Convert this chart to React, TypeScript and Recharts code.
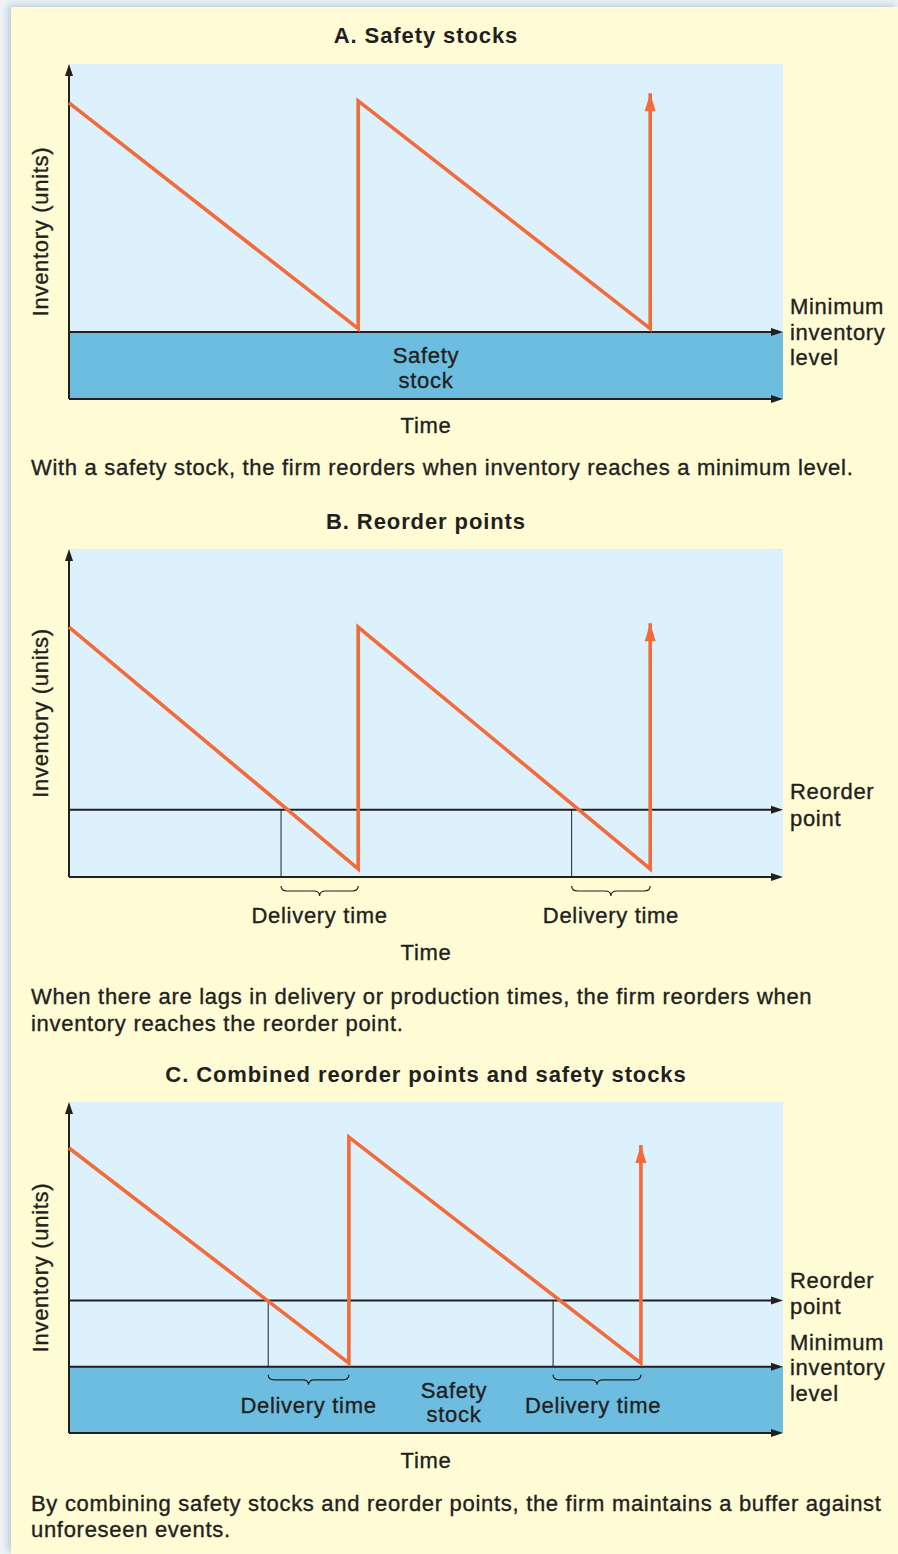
import React from 'react';
import { ComposedChart, Line, XAxis, YAxis, ReferenceArea, ReferenceLine, CartesianGrid } from 'recharts';

const FONT = '"Liberation Sans", Arial, Helvetica, sans-serif';
const INK = '#231f20';
const ORANGE = '#f26b3a';
const PLOT_BG = '#dcf1fc';
const BAND = '#6dbde0';
const CREAM = '#fffbd5';

// ---- shared scales (time 0..10, inventory 0..100) ----
const timeDomain: [number, number] = [0, 10];
const invDomain: [number, number] = [0, 100];

// ---- Panel A: safety stocks ----
const aTime = [0, 4.05, 4.05, 8.14, 8.14];
const aInventory = [88.4, 21, 89, 21, 91.3];
const aMinLevel = 20;

// ---- Panel B: reorder points ----
const bTime = [0, 4.05, 4.05, 8.14, 8.14];
const bInventory = [76.2, 2.5, 76.2, 2.5, 77.4];
const bReorderPoint = 20.5;
const bOrderTimes = [2.97, 7.04];
const bArrivalTimes = [4.05, 8.14];

// ---- Panel C: combined ----
const cTime = [0, 3.92, 3.92, 8.01, 8.01];
const cInventory = [86.1, 21.1, 89.4, 21.1, 87];
const cMinLevel = 20;
const cReorderPoint = 40;
const cOrderTimes = [2.79, 6.78];
const cArrivalTimes = [3.92, 8.01];

// ---- texts ----
const titles = ['A. Safety stocks', 'B. Reorder points', 'C. Combined reorder points and safety stocks'];
const captionA = ['With a safety stock, the firm reorders when inventory reaches a minimum level.'];
const captionB = [
  'When there are lags in delivery or production times, the firm reorders when',
  'inventory reaches the reorder point.',
];
const captionC = [
  'By combining safety stocks and reorder points, the firm maintains a buffer against',
  'unforeseen events.',
];
const yLabel = 'Inventory (units)';
const xLabel = 'Time';
const minLevelLabel = ['Minimum', 'inventory', 'level'];
const reorderLabel = ['Reorder', 'point'];
const safetyLabel = ['Safety', 'stock'];
const deliveryLabel = 'Delivery time';

const textStyle: React.CSSProperties = {
  fontFamily: FONT,
  fontSize: 22,
  letterSpacing: '0.7px',
  fill: INK,
  stroke: INK,
  strokeWidth: 0.35,
};

const arrowLine = (color: string, w: number, headLen: number, headHalf: number) => (props: any) => {
  const { x1, y1, x2, y2 } = props;
  if ([x1, y1, x2, y2].some((v) => typeof v !== 'number' || isNaN(v))) return <g />;
  const dx = x2 - x1;
  const dy = y2 - y1;
  const len = Math.hypot(dx, dy) || 1;
  const ux = dx / len;
  const uy = dy / len;
  const bx = x2 - ux * headLen;
  const by = y2 - uy * headLen;
  const px = -uy;
  const py = ux;
  return (
    <g>
      <line x1={x1} y1={y1} x2={bx + ux * 2} y2={by + uy * 2} stroke={color} strokeWidth={w} />
      <polygon
        points={`${x2},${y2} ${bx + px * headHalf},${by + py * headHalf} ${bx - px * headHalf},${by - py * headHalf}`}
        fill={color}
      />
    </g>
  );
};

const axisArrow = arrowLine(INK, 2, 12, 4);

const levelLine = (lines: string[], dy: number, lh: number) => (props: any) => {
  const { x2, y2 } = props;
  const y0 = y2 + dy - ((lines.length - 1) * lh) / 2;
  return (
    <g>
      {axisArrow(props)}
      {lines.map((s, i) => (
        <text key={i} x={x2 + 7} y={y0 + i * lh} dominantBaseline="central" style={textStyle}>
          {s}
        </text>
      ))}
    </g>
  );
};

const textBlock = (lines: string[], dx: number, dy: number, lh: number) => (props: any) => {
  const { x1, x2, y1 } = props;
  const cx = (x1 + x2) / 2 + dx;
  const y0 = y1 + dy - ((lines.length - 1) * lh) / 2;
  return (
    <g>
      {lines.map((s, i) => (
        <text key={i} x={cx} y={y0 + i * lh} textAnchor="middle" dominantBaseline="central" style={textStyle}>
          {s}
        </text>
      ))}
    </g>
  );
};

const braceShape = (label: string, gap: number, labelDx: number) => (props: any) => {
  const { x1, x2, y1 } = props;
  const top = y1 + gap;
  const h = 5;
  const r = 6;
  const mid = (x1 + x2) / 2;
  const d = `M${x1},${top} Q${x1},${top + h} ${x1 + r},${top + h} L${mid - r},${top + h} Q${mid},${top + h} ${mid},${top + 2 * h} Q${mid},${top + h} ${mid + r},${top + h} L${x2 - r},${top + h} Q${x2},${top + h} ${x2},${top}`;
  return (
    <g>
      <path d={d} fill="none" stroke={INK} strokeWidth={1.2} />
      <text x={mid + labelDx} y={y1 + 38.5} textAnchor="middle" dominantBaseline="central" style={textStyle}>
        {label}
      </text>
    </g>
  );
};

type PanelProps = {
  top: number;
  plotHeight: number;
  xAxisHeight: number;
  time: number[];
  inventory: number[];
  minLevel?: number;
  reorderPoint?: number;
  orderTimes?: number[];
  arrivalTimes?: number[];
  safetyDx?: number;
  reorderDy?: number;
  reorderLh?: number;
  minDy?: number;
  braceGap?: number;
  braceLabelDx?: number[];
};

function Panel(p: PanelProps) {
  const data = p.time.map((t, i) => ({ t, inv: p.inventory[i] }));
  const last = data.length - 1;
  const marginTop = 20;
  const height = marginTop + p.plotHeight + p.xAxisHeight;
  const level = p.minLevel !== undefined ? p.minLevel : 0;
  return (
    <div style={{ position: 'absolute', left: 0, top: p.top - marginTop, width: 898, height }}>
      <ComposedChart width={898} height={height} data={data} margin={{ top: marginTop, right: 115, bottom: 0, left: 11 }}>
        <CartesianGrid fill={PLOT_BG} stroke="none" horizontal={false} vertical={false} />
        <XAxis
          dataKey="t"
          type="number"
          domain={timeDomain}
          tick={false}
          tickLine={false}
          axisLine={false}
          height={p.xAxisHeight}
          label={{ value: xLabel, position: 'center', style: textStyle }}
        />
        <YAxis
          type="number"
          domain={invDomain}
          tick={false}
          tickLine={false}
          axisLine={false}
          width={58}
          label={{ value: yLabel, angle: -90, position: 'center', style: textStyle }}
        />
        {p.minLevel !== undefined && (
          <ReferenceArea x1={timeDomain[0]} x2={timeDomain[1]} y1={0} y2={p.minLevel} fill={BAND} fillOpacity={1} stroke="none" />
        )}
        {p.minLevel !== undefined && (
          <ReferenceLine
            segment={[
              { x: timeDomain[0], y: p.minLevel / 2 },
              { x: timeDomain[1], y: p.minLevel / 2 },
            ]}
            shape={textBlock(safetyLabel, p.safetyDx || 0, 2.5, 24.5)}
          />
        )}
        {p.orderTimes &&
          p.reorderPoint !== undefined &&
          p.orderTimes.map((t, i) => (
            <ReferenceLine
              key={`v${i}`}
              segment={[
                { x: t, y: level },
                { x: t, y: p.reorderPoint as number },
              ]}
              stroke={INK}
              strokeWidth={1}
            />
          ))}
        {p.orderTimes &&
          p.arrivalTimes &&
          p.orderTimes.map((t, i) => (
            <ReferenceLine
              key={`b${i}`}
              segment={[
                { x: t, y: level },
                { x: (p.arrivalTimes as number[])[i], y: level },
              ]}
              shape={braceShape(deliveryLabel, p.braceGap || 8.5, p.braceLabelDx ? p.braceLabelDx[i] : 0)}
            />
          ))}
        {p.reorderPoint !== undefined && (
          <ReferenceLine
            segment={[
              { x: timeDomain[0], y: p.reorderPoint },
              { x: timeDomain[1], y: p.reorderPoint },
            ]}
            shape={levelLine(reorderLabel, p.reorderDy || 0, p.reorderLh || 26)}
          />
        )}
        {p.minLevel !== undefined && (
          <ReferenceLine
            segment={[
              { x: timeDomain[0], y: p.minLevel },
              { x: timeDomain[1], y: p.minLevel },
            ]}
            shape={levelLine(minLevelLabel, p.minDy || 0, 25.5)}
          />
        )}
        <ReferenceLine
          segment={[
            { x: timeDomain[0], y: invDomain[0] },
            { x: timeDomain[1], y: invDomain[0] },
          ]}
          shape={axisArrow}
        />
        <ReferenceLine
          segment={[
            { x: timeDomain[0], y: invDomain[0] },
            { x: timeDomain[0], y: invDomain[1] },
          ]}
          shape={axisArrow}
        />
        <Line
          dataKey="inv"
          type="linear"
          stroke={ORANGE}
          strokeWidth={3.6}
          isAnimationActive={false}
          activeDot={false}
          dot={(d: any) =>
            d.index === last ? (
              <polygon
                key={`arrow-${d.index}`}
                points={`${d.cx},${d.cy} ${d.cx - 5.5},${d.cy + 18} ${d.cx + 5.5},${d.cy + 18}`}
                fill={ORANGE}
              />
            ) : (
              <g key={`dot-${d.index}`} />
            )
          }
        />
      </ComposedChart>
    </div>
  );
}

const baseHtml: React.CSSProperties = {
  position: 'absolute',
  height: 26,
  lineHeight: '26px',
  whiteSpace: 'nowrap',
  fontFamily: FONT,
  fontSize: 22,
  color: INK,
};

const htmlText = (lines: string[], left: number, firstCenter: number, lh: number) =>
  lines.map((s, i) => (
    <div
      key={s}
      style={{
        ...baseHtml,
        left,
        top: firstCenter + i * lh - 13,
        fontWeight: 400,
        letterSpacing: '0.7px',
        WebkitTextStroke: '0.35px ' + INK,
      }}
    >
      {s}
    </div>
  ));

const title = (s: string, center: number) => (
  <div
    style={{
      ...baseHtml,
      left: 0,
      width: 852,
      textAlign: 'center',
      top: center - 13,
      fontWeight: 700,
      letterSpacing: '0.9px',
    }}
  >
    {s}
  </div>
);

export default function App() {
  return (
    <div style={{ position: 'absolute', left: 0, top: 0, width: 898, height: 1554, background: '#eef3f7', overflow: 'hidden' }}>
      <div
        style={{
          position: 'absolute',
          left: 11,
          top: 7,
          width: 887,
          height: 1547,
          background: CREAM,
          boxShadow: '-3px -2px 7px rgba(140,170,200,0.55)',
        }}
      />
      {title(titles[0], 36)}
      <Panel top={64} plotHeight={335} xAxisHeight={52} time={aTime} inventory={aInventory} minLevel={aMinLevel} minDy={0} />
      {htmlText(captionA, 31, 468, 26)}

      {title(titles[1], 522)}
      <Panel
        top={549}
        plotHeight={328}
        xAxisHeight={150}
        time={bTime}
        inventory={bInventory}
        reorderPoint={bReorderPoint}
        orderTimes={bOrderTimes}
        arrivalTimes={bArrivalTimes}
        reorderDy={-4.5}
        reorderLh={27}
        braceGap={9}
      />
      {htmlText(captionB, 31, 997, 27)}

      {title(titles[2], 1075)}
      <Panel
        top={1102}
        plotHeight={331}
        xAxisHeight={54}
        time={cTime}
        inventory={cInventory}
        minLevel={cMinLevel}
        reorderPoint={cReorderPoint}
        orderTimes={cOrderTimes}
        arrivalTimes={cArrivalTimes}
        safetyDx={28}
        reorderDy={-7}
        reorderLh={26}
        minDy={1}
        braceGap={8}
        braceLabelDx={[0, -4]}
      />
      {htmlText(captionC, 31, 1504, 25.5)}
    </div>
  );
}
